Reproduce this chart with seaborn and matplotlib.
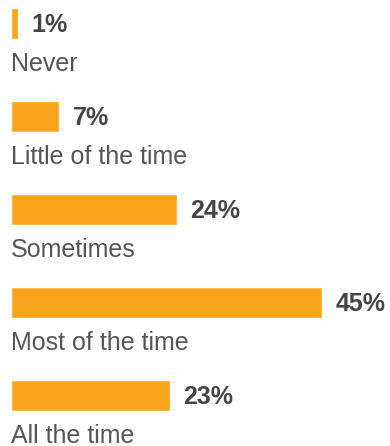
import matplotlib
matplotlib.use("Agg")
import matplotlib.pyplot as plt
import seaborn as sns
import pandas as pd

categories = ["Never", "Little of the time", "Sometimes", "Most of the time", "All the time"]
values = [1, 7, 24, 45, 23]
value_labels = ["1%", "7%", "24%", "45%", "23%"]

sns.set_style("white")
plt.rcParams['font.family'] = ['Liberation Sans', 'DejaVu Sans']

W, H = 390, 446
fig = plt.figure(figsize=(W / 100, H / 100), dpi=100)
px_per_unit = 6.91
left_px = 11
xmax = 50
ax = fig.add_axes([left_px / W, 0, xmax * px_per_unit / W, 1])

df = pd.DataFrame({"cat": categories, "val": values})
sns.barplot(data=df, x="val", y="cat", orient="h", color="#F9A51B",
            saturation=1, width=31 / 93, ax=ax)

ax.set_xlim(0, xmax)
ax.set_ylim(4 + (446 - 395.5) / 93, -23.5 / 93)
ax.axis("off")

for i, (cat, v, lab) in enumerate(zip(categories, values, value_labels)):
    ax.annotate(lab, xy=(v, i), xytext=(9.6, -6.3), textcoords="offset points",
                va="baseline", ha="left", fontsize=18, fontweight="bold",
                color="#454545", annotation_clip=False)
    ax.text(0, i + (15.5 + 32) / 93, cat, va="baseline", ha="left",
            fontsize=18, color="#555555", clip_on=False)

fig.savefig("out.png", dpi=100)
